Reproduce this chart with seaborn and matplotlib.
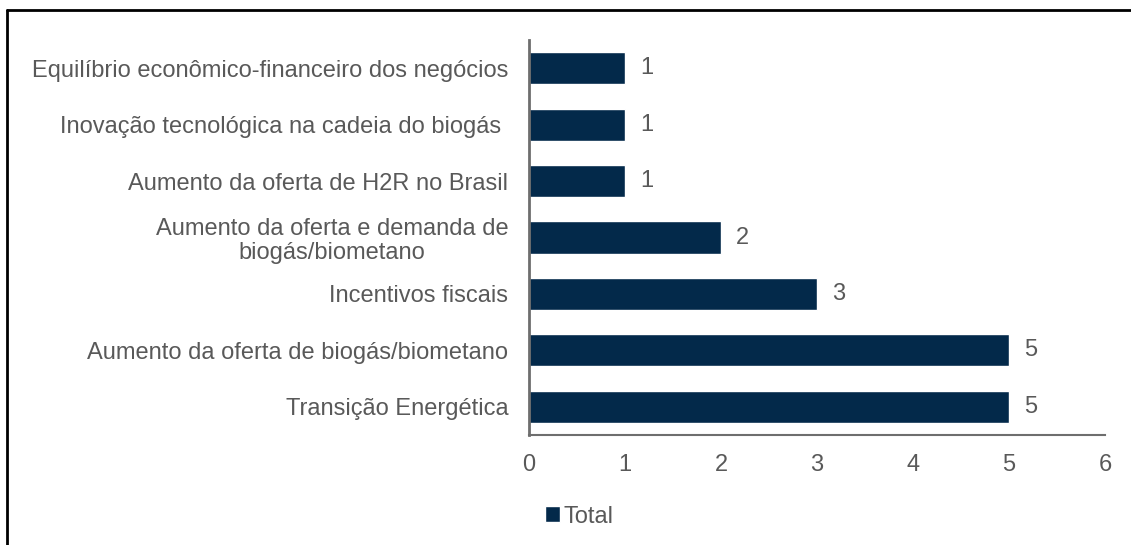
import pandas as pd
import seaborn as sns
import matplotlib.pyplot as plt
from matplotlib.lines import Line2D

# data (top to bottom)
categorias = [
    "Equilíbrio econômico-financeiro dos negócios",
    "Inovação tecnológica na cadeia do biogás ",
    "Aumento da oferta de H2R no Brasil",
    "Aumento da oferta e demanda de\nbiogás/biometano",
    "Incentivos fiscais",
    "Aumento da oferta de biogás/biometano",
    "Transição Energética",
]
valores = [1, 1, 1, 2, 3, 5, 5]
serie = "Total"

cor_barra = "#03294a"
cinza = "#595959"
fs = 17

df = pd.DataFrame({"categoria": categorias, "valor": valores, "serie": serie})

sns.set_style("white")
plt.rcParams["font.family"] = ["Liberation Sans", "DejaVu Sans"]

fig = plt.figure(figsize=(11.31, 5.45), dpi=100)
ax = fig.add_axes([0.4677, 0.2018, 0.977 - 0.4677, 0.9266 - 0.2018])

sns.barplot(data=df, x="valor", y="categoria", hue="serie", palette=[cor_barra],
            width=0.57, ax=ax, legend=True, saturation=1)

ax.set_xlim(0, 6)
ax.set_ylim(6.5, -0.5)
ax.set_xticks(range(0, 7))
ax.set_xlabel("")
ax.set_ylabel("")
ax.tick_params(axis="both", length=0, labelsize=fs, labelcolor=cinza)
ax.tick_params(axis="x", pad=14)
ax.tick_params(axis="y", pad=15)
for lbl in ax.get_yticklabels():
    lbl.set_multialignment("center")
    lbl.set_linespacing(1.1)

# data labels
for i, v in enumerate(valores):
    ax.text(v + 0.16, i, str(v), va="center", ha="left", fontsize=fs, color=cinza)

for s in ["top", "right"]:
    ax.spines[s].set_visible(False)
ax.spines["left"].set_color("#6e6e6e")
ax.spines["left"].set_linewidth(2)
ax.spines["bottom"].set_color("#6e6e6e")
ax.spines["bottom"].set_linewidth(1.5)

leg = ax.legend(loc="center left", bbox_to_anchor=(0.463, 0.052),
                bbox_transform=fig.transFigure, frameon=False, fontsize=fs,
                handlelength=0.65, handleheight=0.65, handletextpad=0.15)
for t in leg.get_texts():
    t.set_color(cinza)

# outer frame (top and left only)
fig.add_artist(Line2D([0.0062, 1.0], [0.9817, 0.9817], color="black", lw=2,
                      transform=fig.transFigure))
fig.add_artist(Line2D([0.0062, 0.0062], [0.0, 0.9817], color="black", lw=2,
                      transform=fig.transFigure))

fig.savefig("out.png", dpi=100)
